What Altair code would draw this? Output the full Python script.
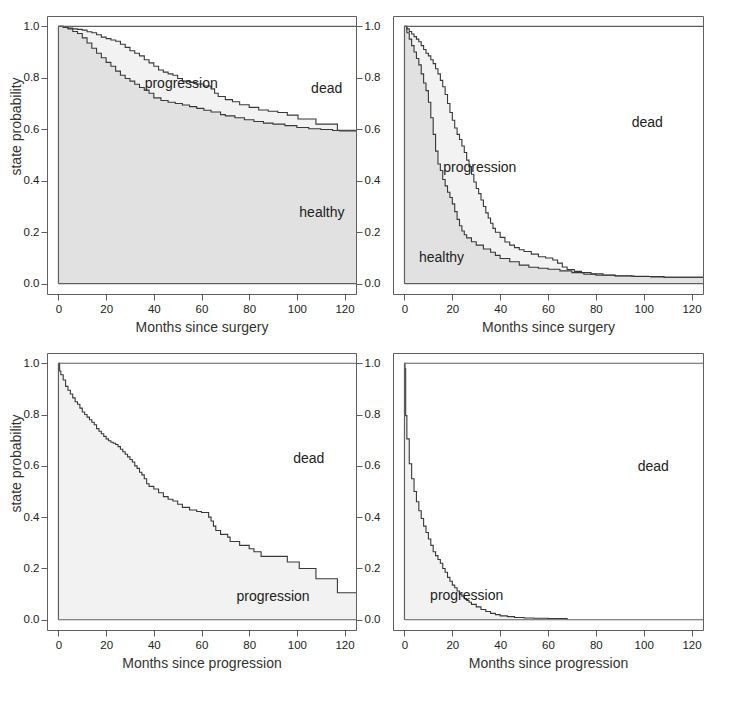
import altair as alt
import pandas as pd

# ---------------- data ----------------
x_ticks = [0, 20, 40, 60, 80, 100, 120]
y_ticks = [0.0, 0.2, 0.4, 0.6, 0.8, 1.0]
follow_up_end = 124.8

# Top-left: months since surgery
tl_healthy_t = [0, 2, 4, 6, 8, 10, 12, 14, 16, 18, 20, 22, 24, 26, 28, 30, 32, 34, 36, 38, 40,
                43, 46, 49, 52, 55, 58, 61, 64, 68, 70, 74, 78, 82, 86, 90, 95, 100, 105, 110, 115, 118]
tl_healthy_p = [1.0, 0.996, 0.99, 0.98, 0.972, 0.955, 0.935, 0.915, 0.895, 0.878, 0.86, 0.845, 0.826,
                0.81, 0.797, 0.787, 0.775, 0.762, 0.752, 0.74, 0.722, 0.712, 0.705, 0.7, 0.694, 0.688,
                0.681, 0.674, 0.667, 0.657, 0.652, 0.645, 0.637, 0.63, 0.624, 0.62, 0.614, 0.607,
                0.602, 0.599, 0.595, 0.593]
tl_alive_t = [0, 2, 4, 6, 8, 10, 12, 14, 16, 18, 20, 22, 24, 26, 28, 30, 32, 34, 36, 38, 40, 42, 44,
              46, 48, 50, 52, 55, 58, 61, 64, 65.5, 67, 70, 73, 76, 80, 84, 88, 92, 96, 100.5, 104,
              108, 112, 117]
tl_alive_p = [1.0, 0.997, 0.993, 0.99, 0.988, 0.985, 0.979, 0.975, 0.967, 0.958, 0.952, 0.947, 0.942,
              0.93, 0.918, 0.905, 0.895, 0.885, 0.87, 0.858, 0.845, 0.83, 0.822, 0.815, 0.81, 0.797,
              0.787, 0.782, 0.776, 0.768, 0.757, 0.74, 0.727, 0.715, 0.707, 0.695, 0.685, 0.675,
              0.67, 0.665, 0.655, 0.64, 0.64, 0.62, 0.62, 0.596]

# Top-right: months since surgery
tr_healthy_t = [0, 1, 2, 3, 4, 5, 6, 7, 8, 9, 10, 11, 12, 13, 14, 15, 16, 17, 18, 19, 20, 21, 22, 23,
                24, 25, 26, 28, 30, 33, 36, 38, 40, 44, 48, 52, 56, 60, 65, 70, 75, 80, 88, 96, 103, 108.5]
tr_healthy_p = [1.0, 0.975, 0.95, 0.925, 0.9, 0.875, 0.85, 0.815, 0.78, 0.75, 0.705, 0.645, 0.58,
                0.515, 0.465, 0.44, 0.405, 0.38, 0.355, 0.335, 0.31, 0.28, 0.25, 0.225, 0.205, 0.19,
                0.178, 0.163, 0.15, 0.135, 0.122, 0.11, 0.098, 0.085, 0.072, 0.064, 0.06, 0.056,
                0.05, 0.043, 0.037, 0.033, 0.03, 0.028, 0.026, 0.025]
tr_alive_t = [0, 1, 2, 3, 4, 5, 6, 7, 8, 9, 10, 11, 12, 13, 14, 15, 16, 17, 18, 19, 20, 21, 22, 23,
              24, 25, 26, 27, 28, 29, 30, 31, 32, 33, 34, 35, 36, 37, 38, 40, 42, 44, 46, 48, 50, 53,
              56, 59, 62, 64, 66, 68, 71, 74, 78, 83, 88, 95, 102, 108.5]
tr_alive_p = [1.0, 0.99, 0.98, 0.97, 0.96, 0.95, 0.94, 0.925, 0.91, 0.895, 0.885, 0.87, 0.855, 0.835,
              0.815, 0.79, 0.765, 0.735, 0.7, 0.665, 0.635, 0.605, 0.58, 0.56, 0.535, 0.51, 0.48,
              0.455, 0.425, 0.395, 0.37, 0.35, 0.325, 0.3, 0.275, 0.255, 0.235, 0.215, 0.2, 0.18,
              0.162, 0.15, 0.14, 0.132, 0.125, 0.115, 0.105, 0.1, 0.092, 0.08, 0.065, 0.055, 0.048,
              0.043, 0.038, 0.034, 0.031, 0.029, 0.028, 0.025]

# Bottom-left: months since progression
bl_alive_t = [0, 0.5, 1, 2, 3, 4, 5, 6, 7, 8, 9, 10, 11, 12, 13, 14, 15, 16, 17, 18, 19, 20, 21, 22,
              23, 24, 25, 26, 27, 28, 29, 30, 31, 32, 33, 34, 35, 36, 37, 38, 40, 42, 44, 46, 48, 50,
              52, 55, 58, 60, 63, 64, 65, 66, 68, 71, 72, 76, 80, 82, 85, 96, 101, 108, 117]
bl_alive_p = [1.0, 0.97, 0.955, 0.935, 0.91, 0.895, 0.88, 0.865, 0.85, 0.84, 0.825, 0.81, 0.8, 0.79,
              0.78, 0.77, 0.76, 0.745, 0.735, 0.725, 0.715, 0.705, 0.698, 0.692, 0.688, 0.683, 0.675,
              0.665, 0.655, 0.645, 0.635, 0.625, 0.615, 0.6, 0.59, 0.575, 0.565, 0.55, 0.53, 0.52,
              0.51, 0.495, 0.48, 0.47, 0.463, 0.45, 0.438, 0.428, 0.422, 0.418, 0.4, 0.385, 0.365,
              0.348, 0.333, 0.322, 0.305, 0.29, 0.277, 0.265, 0.247, 0.225, 0.2, 0.16, 0.105]

# Bottom-right: months since progression
br_alive_t = [0, 0.2, 0.5, 1, 2, 3, 4, 5, 6, 7, 8, 9, 10, 11, 12, 13, 14, 15, 16, 17, 18, 19, 20,
              21, 22, 23, 24, 25, 26, 27, 28, 30, 32, 34, 36, 38, 40, 43, 46, 50, 54, 60, 68]
br_alive_p = [1.0, 0.978, 0.796, 0.705, 0.608, 0.55, 0.5, 0.46, 0.425, 0.395, 0.365, 0.34, 0.315,
              0.29, 0.265, 0.25, 0.235, 0.22, 0.2, 0.185, 0.165, 0.15, 0.135, 0.125, 0.112, 0.1,
              0.092, 0.083, 0.075, 0.068, 0.06, 0.05, 0.04, 0.032, 0.025, 0.02, 0.015, 0.012,
              0.009, 0.007, 0.006, 0.005, 0.0]

# state labels
tl_labels = ["progression", "dead", "healthy"]
tl_label_x = [51.5, 112.5, 110.5]
tl_label_y = [0.776, 0.758, 0.275]
tr_labels = ["dead", "progression", "healthy"]
tr_label_x = [101.5, 31.5, 15.5]
tr_label_y = [0.624, 0.449, 0.098]
bl_labels = ["dead", "progression"]
bl_label_x = [105, 90]
bl_label_y = [0.627, 0.088]
br_labels = ["dead", "progression"]
br_label_x = [104, 26]
br_label_y = [0.595, 0.092]

# ---------------- styling ----------------
FONT = "Liberation Sans"
C_HEALTHY = "#e1e1e1"
C_PROG = "#f2f2f2"
C_LINE = "#383838"
C_FRAME = "#5f5f5f"
C_TEXT = "#222222"

X_DOMAIN = [-4.8, 124.8]
Y_DOMAIN = [-0.04, 1.04]


def extend(t, p, end):
    t = list(t)
    p = list(p)
    if end is not None:
        t.append(end)
        p.append(p[-1])
    return t, p


def panel(series, labels, lx, ly, xtitle, left, w, h):
    xs = alt.Scale(domain=X_DOMAIN, nice=False, zero=False)
    ys = alt.Scale(domain=Y_DOMAIN, nice=False, zero=False)
    xaxis = alt.Axis(values=x_ticks, title=xtitle, labelPadding=3, titlePadding=6)
    layers = []
    # areas: outer (alive) first, healthy on top
    for t, p, fill, end in series:
        tt, pp = extend(t, p, end)
        df = pd.DataFrame({"t": tt, "p": pp})
        layers.append(
            alt.Chart(df).mark_area(interpolate="step-after", color=fill, clip=True).encode(
                x=alt.X("t:Q", scale=xs, axis=xaxis),
                y=alt.Y("p:Q", scale=ys, axis=None),
                y2=alt.datum(0),
            )
        )
    for t, p, fill, end in series:
        tt, pp = extend(t, p, end)
        df = pd.DataFrame({"t": tt, "p": pp})
        layers.append(
            alt.Chart(df).mark_line(interpolate="step-after", color=C_LINE, strokeWidth=1.1,
                                    clip=True).encode(
                x=alt.X("t:Q", scale=xs, axis=xaxis),
                y=alt.Y("p:Q", scale=ys, axis=None),
            )
        )
    # state-space boundaries (probability 0 and 1, time 0)
    frame = pd.DataFrame({
        "x": [0, 0, 0], "x2": [follow_up_end, follow_up_end, 0],
        "y": [1.0, 0.0, 0.0], "y2": [1.0, 0.0, 1.0],
    })
    if left:
        yaxis = alt.Axis(values=y_ticks, format=".1f", title="state probability", orient="left",
                         labelPadding=2, titlePadding=0, titleY=110)
    else:
        yaxis = None
    layers.append(
        alt.Chart(frame).mark_rule(color=C_FRAME, strokeWidth=1.2).encode(
            x=alt.X("x:Q", scale=xs, axis=xaxis),
            x2="x2:Q",
            y=alt.Y("y:Q", scale=ys, axis=yaxis),
            y2="y2:Q",
        )
    )
    tdf = pd.DataFrame({"label": labels, "x": lx, "y": ly})
    yaxis_r = (alt.Axis(values=y_ticks, format=".1f", title=None, orient="right", labelPadding=2)
               if left else None)
    layers.append(
        alt.Chart(tdf).mark_text(font=FONT, fontSize=14, color=C_TEXT).encode(
            x=alt.X("x:Q", scale=xs, axis=xaxis),
            y=alt.Y("y:Q", scale=ys, axis=yaxis_r),
            text="label:N",
        )
    )
    ch = alt.layer(*layers).properties(width=w, height=h)
    if left:
        ch = ch.resolve_axis(y="independent")
    return ch


tl = panel([(tl_alive_t, tl_alive_p, C_PROG, follow_up_end),
            (tl_healthy_t, tl_healthy_p, C_HEALTHY, follow_up_end)],
           tl_labels, tl_label_x, tl_label_y, "Months since surgery", True, 309, 278)
tr = panel([(tr_alive_t, tr_alive_p, C_PROG, follow_up_end),
            (tr_healthy_t, tr_healthy_p, C_HEALTHY, follow_up_end)],
           tr_labels, tr_label_x, tr_label_y, "Months since surgery", False, 310, 278)
bl = panel([(bl_alive_t, bl_alive_p, C_PROG, follow_up_end)],
           bl_labels, bl_label_x, bl_label_y, "Months since progression", True, 309, 277)
br = panel([(br_alive_t, br_alive_p, C_PROG, None)],
           br_labels, br_label_x, br_label_y, "Months since progression", False, 310, 277)

chart = alt.concat(tl, tr, bl, br, columns=2, spacing={"row": 17, "column": 11}).properties(
    padding={"left": 0, "top": 7, "right": 0, "bottom": 0}
).configure_view(
    stroke=C_FRAME, strokeWidth=1, fill="white"
).configure_axis(
    domain=False, grid=False, ticks=True, tickSize=6, tickColor=C_FRAME,
    labelFont=FONT, labelFontSize=11.5, labelColor=C_TEXT,
    titleFont=FONT, titleFontSize=14, titleFontWeight="normal", titleColor="#333333",
)

chart.save("out.html", embed_options={"renderer": "svg", "actions": False})
